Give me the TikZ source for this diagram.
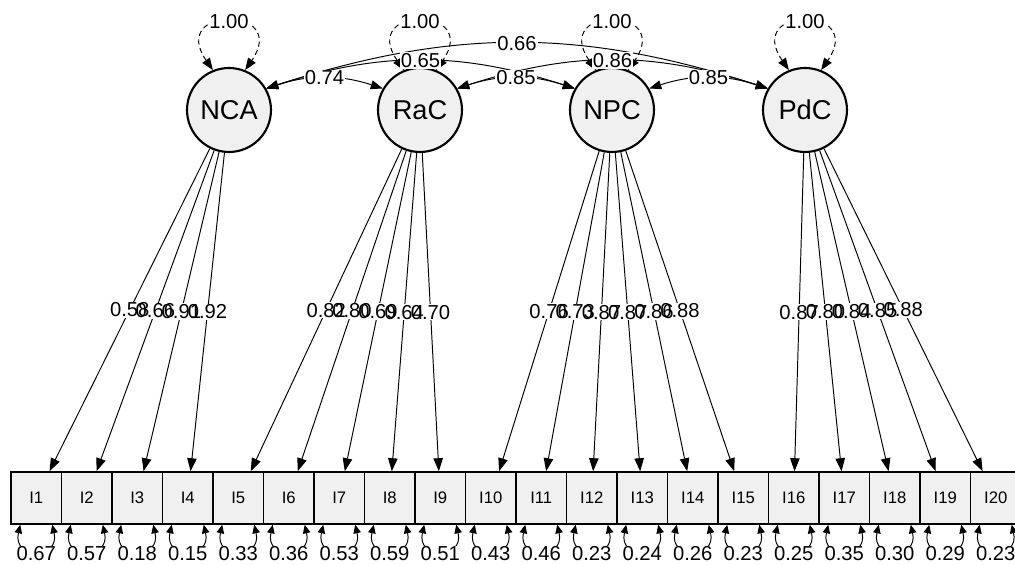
\documentclass[tikz,border=0pt]{standalone}
\usepackage{fontspec}
\setmainfont{Liberation Sans}
\usetikzlibrary{positioning, arrows.meta, calc}

\tikzset{
  latent/.style={circle, draw, line width=1.2pt, fill=gray!12, minimum size=1.68cm,
    inner sep=0pt, font=\fontsize{15.5}{18}\selectfont},
  manifest/.style={rectangle, draw, line width=0.9pt, fill=gray!12, minimum width=1.01cm,
    minimum height=1.04cm, inner sep=0pt, font=\fontsize{9.5}{11}\selectfont},
  loading/.style={-{Triangle[length=2.6mm,width=1.9mm]}, line width=0.55pt},
  covar/.style={{Triangle[length=2.4mm,width=1.8mm]}-{Triangle[length=2.4mm,width=1.8mm]}, line width=0.55pt},
  varloop/.style={covar, dash pattern=on 3pt off 2pt},
  resid/.style={{Triangle[length=1.7mm,width=1.5mm]}-{Triangle[length=1.7mm,width=1.5mm]}, line width=0.55pt},
  numlbl/.style={font=\fontsize{11.5}{13}\selectfont, inner sep=0.6pt},
}

\begin{document}
\begin{tikzpicture}[x=0.02cm, y=0.02cm]

\useasboundingbox (0,0) rectangle (1015,565);

\def\loads{0.58,0.66,0.91,0.92,0.82,0.80,0.69,0.64,0.70,0.76,0.73,0.87,0.87,0.86,0.88,0.87,0.80,0.84,0.85,0.88}
\def\resids{0.67,0.57,0.18,0.15,0.33,0.36,0.53,0.59,0.51,0.43,0.46,0.23,0.24,0.26,0.23,0.25,0.35,0.30,0.29,0.23}

% Latent variables
\node[latent] (NCA) at (229,455) {NCA};
\node[latent] (RaC) at (420,455) {RaC};
\node[latent] (NPC) at (612,455) {NPC};
\node[latent] (PdC) at (805,455) {PdC};

% Indicators
\foreach \i in {1,...,20} {
    \node[manifest] (I\i) at ({11+50.5*(\i-0.5)},67) {I\i};
}

% Covariances
\foreach \a/\b/\n in {NCA/RaC/1, NCA/NPC/2, NCA/PdC/3, RaC/NPC/4, RaC/PdC/5, NPC/PdC/6} {
    \draw[covar] (\a.30) to[bend left=18] coordinate (c\n) (\b.150);
}

% Variances of the latents
\foreach \lat in {NCA,RaC,NPC,PdC} {
    \draw[varloop] (\lat.112) .. controls +(-45,65) and +(45,65) .. coordinate[pos=.5] (v\lat) (\lat.68);
}

% Loadings
\foreach \lat/\first/\last in {NCA/1/4, RaC/5/9, NPC/10/15, PdC/16/20} {
    \foreach \i in {\first,...,\last} {
        \draw[loading] (\lat) -- (I\i) coordinate[pos=.5] (m\i);
    }
}

% Residuals
\foreach \i in {1,...,20} {
    \coordinate (rl\i) at ($(I\i.south)+(-16,0)$);
    \coordinate (rr\i) at ($(I\i.south)+(16,0)$);
    \draw[resid] (rl\i) .. controls +(-8,-35) and +(8,-35) .. (rr\i);
}

% Labels
\foreach \v [count=\i] in \loads {
    \node[numlbl, fill=white] at (m\i) {\phantom{\v}};
}
\foreach \v [count=\i] in \loads {
    \node[numlbl] at (m\i) {\v};
}
\foreach \v [count=\i] in \resids {
    \node[numlbl, fill=white] at ($(I\i.south)+(0,-29)$) {\v};
}
\foreach \lat in {NCA,RaC,NPC,PdC} {
    \node[numlbl, fill=white] at (v\lat) {1.00};
}
\foreach \v [count=\n] in {0.74,0.65,0.66,0.85,0.86,0.85} {
    \node[numlbl, fill=white] at (c\n) {\v};
}

\end{tikzpicture}
\end{document}
